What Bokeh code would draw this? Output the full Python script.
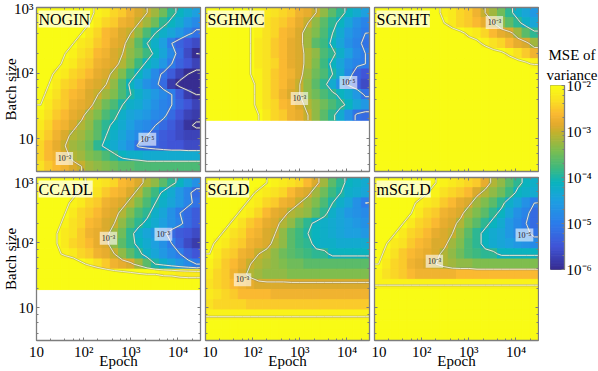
import numpy as np
from bokeh.embed import file_html
from bokeh.resources import INLINE
from bokeh.plotting import figure
from bokeh.plotting.contour import contour_data
from bokeh.layouts import row, column
from bokeh.models import (ColumnDataSource, Label, LinearColorMapper, LogAxis, LogTicker,
                          Range1d, Title)

# -log10(MSE of variance) x 10, rows from largest batch size down, columns from epoch 10 up
NOGIN = [
 [10,11,12,13,15,17,19,21,22,24,25,27,29,30,32,35,39,41,43,45],
 [10,11,13,14,16,18,20,22,24,25,27,28,30,32,35,39,41,43,46,48],
 [11,13,14,16,18,20,22,24,26,27,29,30,33,37,40,42,44,46,49,51],
 [12,14,16,18,20,22,23,25,26,28,29,32,36,40,42,45,50,53,55,56],
 [14,16,18,20,21,23,24,26,27,29,30,33,35,38,41,44,48,52,56,60],
 [16,18,19,21,22,24,25,27,28,29,31,34,38,41,43,46,50,53,55,57],
 [17,19,21,22,24,25,26,28,29,31,34,38,41,44,48,51,54,57,60,62],
 [18,20,22,24,25,26,28,29,30,33,37,41,44,47,49,52,58,62,63,63],
 [19,21,23,25,26,27,29,30,32,34,37,40,42,44,46,48,50,54,58,60],
 [20,22,24,25,27,28,29,32,35,37,40,42,43,45,47,49,50,53,55,57],
 [21,23,25,26,28,29,32,34,37,39,42,44,45,46,48,49,52,55,57,58],
 [22,24,26,27,29,31,33,36,39,41,43,45,47,48,50,52,54,56,59,61],
 [23,25,27,29,31,32,34,36,40,42,44,46,48,50,52,54,55,56,57,57],
 [24,26,28,30,32,33,35,39,41,43,45,47,51,52,53,54,55,55,56,56],
 [24,26,27,29,31,32,34,35,37,39,41,42,42,43,43,43,43,43,43,43],
 [23,25,26,27,29,30,32,33,34,35,36,36,37,37,37,37,37,37,37,37],
]
SGHMC = [
 [12,13,14,16,18,20,21,22,23,24,25,27,28,30,33,36,39,41,43,45],
 [12,13,14,16,18,20,21,23,24,25,26,28,30,33,36,39,41,44,47,49],
 [12,13,14,16,18,20,21,23,24,26,27,29,32,34,37,40,43,46,48,50],
 [12,13,14,16,18,20,22,23,25,26,28,29,32,36,38,41,44,47,49,51],
 [12,13,14,16,18,20,22,23,25,26,28,29,31,33,37,39,42,45,48,50],
 [12,13,14,16,18,20,22,23,24,26,28,29,31,34,38,41,44,47,49,50],
 [12,13,14,16,18,20,21,23,25,26,27,29,32,35,37,40,43,48,53,55],
 [12,13,14,16,18,19,21,23,25,26,28,30,33,36,39,43,47,51,54,56],
 [12,13,14,16,18,19,21,23,25,27,29,30,33,35,37,39,41,43,46,51],
 [12,13,14,16,17,19,21,23,24,26,27,29,31,33,35,37,39,41,44,46],
 [12,13,14,16,17,19,20,22,24,25,27,28,30,33,36,39,43,47,51,52],
]
SGNHT = [
 [9,10,11,12,13,14,16,19,21,22,24,25,27,30,32,35,39,42,44,46],
 [8,9,10,11,12,13,14,16,20,22,24,25,26,28,30,33,36,39,42,44],
 [7,8,9,10,11,12,13,14,16,18,19,21,22,24,26,28,29,32,36,39],
 [6,7,8,9,10,11,12,13,14,15,16,18,19,21,23,24,26,28,29,32],
 [6,7,7,8,9,10,11,12,13,13,14,15,16,17,18,19,21,23,25,27],
 [5,6,6,7,7,8,8,9,10,11,12,13,14,15,15,16,17,18,19,21],
 [5,5,5,5,5,5,5,5,5,5,5,5,5,5,5,5,5,5,5,5],
 [5,5,5,5,5,5,5,5,5,5,5,5,5,5,5,5,5,5,5,5],
 [5,5,5,5,5,5,5,5,5,5,5,5,5,5,5,5,5,5,5,5],
 [5,5,5,5,5,5,5,5,5,5,5,5,5,5,5,5,5,5,5,5],
 [5,5,5,5,5,5,5,5,5,5,5,5,5,5,5,5,5,5,5,5],
 [5,5,5,5,5,5,5,5,5,5,5,5,5,5,5,5,5,5,5,5],
 [5,5,5,5,5,5,5,5,5,5,5,5,5,5,5,5,5,5,5,5],
 [5,5,5,5,5,5,5,5,5,5,5,5,5,5,5,5,5,5,5,5],
 [5,5,5,5,5,5,5,5,5,5,5,5,5,5,5,5,5,5,5,5],
 [5,5,5,5,5,5,5,5,5,5,5,5,5,5,5,5,5,5,5,5],
]
CCADL = [
 [11,12,13,15,17,19,21,22,23,24,26,27,29,31,33,36,39,41,44,47],
 [11,13,14,16,19,21,22,23,25,26,27,29,31,35,38,41,43,46,49,52],
 [12,14,16,19,21,22,24,25,27,28,29,31,34,37,40,42,44,46,49,51],
 [13,15,18,20,22,24,25,26,28,29,31,34,37,39,42,44,47,50,52,54],
 [14,16,19,21,23,24,26,27,29,30,33,36,39,41,43,45,47,49,52,54],
 [15,18,20,22,23,25,27,28,29,32,35,39,42,44,46,49,52,54,55,56],
 [15,18,20,22,24,25,26,28,29,33,36,39,41,43,45,47,50,53,56,58],
 [14,16,19,21,22,24,25,27,28,30,33,36,39,42,44,46,48,50,53,55],
 [10,12,14,15,17,19,21,23,25,27,28,29,32,36,40,42,44,46,48,50],
 [7,8,9,10,11,12,13,14,15,16,17,18,19,20,20,21,21,22,22,22],
 [5,5,6,6,7,7,8,8,9,9,10,10,11,12,13,14,15,15,16,16],
]
SGLD = [
 [10,11,12,13,15,17,18,20,21,22,23,24,26,29,32,36,39,41,42,43],
 [11,12,14,15,17,19,21,22,23,24,26,28,29,32,35,38,40,42,43,44],
 [12,14,16,17,19,21,22,24,25,27,28,30,32,34,37,40,42,44,47,50],
 [14,15,17,19,21,22,24,26,28,29,31,32,33,36,39,42,44,46,47,48],
 [15,17,19,21,23,25,26,28,29,31,33,36,39,41,42,43,44,45,46,47],
 [18,19,21,23,24,26,27,29,30,33,36,38,40,41,42,43,44,45,45,46],
 [19,21,22,24,25,27,28,29,31,33,36,38,39,41,42,42,43,43,43,43],
 [20,22,24,25,27,28,30,31,33,35,36,37,38,39,39,41,41,41,41,41],
 [21,23,25,26,28,30,31,32,33,34,35,35,36,36,36,36,36,36,36,36],
 [22,24,25,27,29,31,32,33,33,33,34,34,34,34,34,34,34,34,34,34],
 [23,24,25,26,27,28,29,29,29,29,29,29,29,29,29,29,29,29,29,29],
 [22,23,24,25,26,26,26,26,27,27,27,27,27,27,27,27,27,27,27,27],
 [23,24,24,24,24,25,25,25,25,25,25,25,25,25,25,25,25,25,25,25],
 [21,21,21,21,21,21,21,21,21,21,21,21,21,21,21,21,21,21,21,21],
 [15,15,15,15,15,15,15,15,15,15,15,15,15,15,15,15,15,15,15,15],
 [13,13,13,13,13,13,13,13,13,13,13,13,13,13,13,13,13,13,13,13],
]
MSGLD = [
 [10,11,12,13,14,16,18,20,21,22,23,24,25,28,31,33,36,39,41,42],
 [11,12,13,15,16,18,20,21,23,24,25,26,29,31,33,35,38,41,42,43],
 [12,13,15,17,19,21,22,23,25,26,28,29,32,34,36,39,42,44,47,50],
 [13,15,17,19,20,22,24,25,27,28,29,32,34,36,39,41,44,47,49,52],
 [14,16,18,20,22,24,25,26,28,29,31,34,36,39,41,43,46,48,50,52],
 [16,18,20,22,24,25,26,28,29,30,33,36,39,41,43,44,46,48,49,51],
 [18,20,22,23,25,26,27,29,29,32,34,37,39,41,43,44,45,46,47,48],
 [19,21,23,25,26,27,28,29,31,33,35,37,38,39,39,41,41,41,41,41],
 [20,22,24,25,27,28,29,30,31,32,33,33,34,34,34,34,34,34,34,34],
 [21,23,24,25,26,27,27,27,27,27,26,26,26,26,26,26,26,26,26,26],
 [21,21,21,21,21,21,21,21,21,21,21,21,21,21,21,21,21,21,21,21],
 [7,7,7,7,7,7,7,7,7,7,7,7,7,7,7,7,7,7,7,7],
 [5,5,5,5,5,5,5,5,5,5,5,5,5,5,5,5,5,5,5,5],
 [5,5,5,5,5,5,5,5,5,5,5,5,5,5,5,5,5,5,5,5],
 [5,5,5,5,5,5,5,5,5,5,5,5,5,5,5,5,5,5,5,5],
 [5,5,5,5,5,5,5,5,5,5,5,5,5,5,5,5,5,5,5,5],
]
CONTOUR_LEVELS = [-6, -5, -4, -3, -2]
# (epoch, batch size, text) of the labels sitting on the contours
INLINE_LABELS = {
    "NOGIN": [(39, 5.0, "10⁻³"), (2240, 9.8, "10⁻⁵")],
    "SGHMC": [(980, 41, "10⁻³"), (10700, 72, "10⁻⁵")],
    "SGNHT": [(3480, 590, "10⁻³")],
    "CCADL": [(335, 117, "10⁻³"), (4900, 135, "10⁻⁵")],
    "SGLD": [(61, 27, "10⁻³")],
    "mSGLD": [(186, 52, "10⁻³"), (15100, 131, "10⁻⁵")],
}
X_TICK_LABELS = {10: "10", 100: "10²", 1000: "10³", 10000: "10⁴"}
Y_TICK_LABELS = {10: "10", 100: "10²", 1000: "10³"}
BAR_TICK_LABELS = {1e-2: "10⁻²", 1e-3: "10⁻³", 1e-4: "10⁻⁴", 1e-5: "10⁻⁵", 1e-6: "10⁻⁶"}

# colour scale
COLOR_STOPS = [-6.0, -5.5, -5.0, -4.5, -4.1, -3.8, -3.4, -3.0, -2.85, -2.6, -2.3, -2.0]
COLOR_R = [55, 65, 45, 30, 10, 60, 125, 195, 225, 250, 250, 249]
COLOR_G = [45, 85, 125, 160, 180, 185, 190, 178, 170, 185, 225, 251]
COLOR_B = [145, 215, 235, 225, 190, 130, 80, 45, 45, 50, 35, 21]
_levels = np.linspace(-6, -2, 128)
PALETTE = ["#%02x%02x%02x" % (int(r), int(g), int(b)) for r, g, b in zip(
    np.interp(_levels, COLOR_STOPS, COLOR_R),
    np.interp(_levels, COLOR_STOPS, COLOR_G),
    np.interp(_levels, COLOR_STOPS, COLOR_B))]

FONT = "Liberation Serif"
GRAY = "#7d7d7d"
mapper = LinearColorMapper(palette=PALETTE, low=-6, high=-2)
x_edges = np.linspace(1, np.log10(3e4), 21)
y_edges = np.linspace(3, 0.5, 17)


def style_axis(ax, labels=None):
    ax.ticker = LogTicker()
    ax.axis_line_color = GRAY
    ax.axis_line_width = 1.3
    ax.major_tick_line_color = GRAY
    ax.minor_tick_line_color = GRAY
    ax.major_tick_in, ax.major_tick_out = 3, 0
    ax.minor_tick_in, ax.minor_tick_out = 2, 0
    ax.major_label_standoff = 3
    if labels:
        ax.major_label_overrides = labels
        ax.major_label_text_font = FONT
        ax.major_label_text_font_size = "15px"
        ax.major_label_text_color = "black"
    else:
        ax.major_label_text_font_size = "1px"
        ax.major_label_text_color = None
        ax.major_label_standoff = 0


def style_axis_label(ax, text, standoff):
    ax.axis_label = text
    ax.axis_label_text_font = FONT
    ax.axis_label_text_font_size = "15px"
    ax.axis_label_text_font_style = "normal"
    ax.axis_label_text_color = "black"
    ax.axis_label_standoff = standoff


def panel(name, table, col, bottom):
    left_b = 36 if col == 0 else 3
    right_b = 1 if col == 2 else 2
    top_b = 3 if bottom else 7
    bottom_b = 30 if bottom else 3
    p = figure(width=left_b + 164 + right_b, height=top_b + 164 + bottom_b,
               x_axis_type="log", y_axis_type="log",
               x_range=Range1d(10, 3e4), y_range=Range1d(10 ** 0.5, 1000),
               min_border_left=left_b, min_border_right=right_b,
               min_border_top=top_b, min_border_bottom=bottom_b,
               output_backend="svg", toolbar_location=None)
    p.grid.visible = False
    p.outline_line_color = GRAY
    z = -np.array(table, dtype=float) / 10
    nrow, ncol = z.shape
    rr, cc = np.mgrid[0:nrow, 0:ncol]
    src = ColumnDataSource(dict(
        left=10 ** x_edges[cc.ravel()], right=10 ** x_edges[cc.ravel() + 1],
        top=10 ** y_edges[rr.ravel()], bottom=10 ** y_edges[rr.ravel() + 1],
        z=z.ravel()))
    cmap = {"field": "z", "transform": mapper}
    p.quad(left="left", right="right", top="top", bottom="bottom", source=src,
           fill_color=cmap, line_color=cmap, line_width=1)

    # contours, traced in log space over the cell centres, carried out to the cell edges
    xc = 0.5 * (x_edges[:-1] + x_edges[1:])
    yc = 0.5 * (y_edges[:nrow] + y_edges[1:nrow + 1])
    xg = np.r_[x_edges[0], xc, x_edges[-1]]
    yg = np.r_[y_edges[0], yc, y_edges[nrow]]
    zg = np.pad(z, 1, mode="edge")
    cd = contour_data(xg, yg[::-1], zg[::-1], CONTOUR_LEVELS, want_fill=False, want_line=True)
    xs = [10 ** np.asarray(a) for a in cd.line_data.xs if a is not None and len(a)]
    ys = [10 ** np.asarray(a) for a in cd.line_data.ys if a is not None and len(a)]
    p.multi_line(xs, ys, line_color="#777777", line_alpha=0.35, line_width=2.4)
    p.multi_line(xs, ys, line_color="#eeecd8", line_alpha=0.95, line_width=1.0)

    for ex, by, txt in INLINE_LABELS[name]:
        p.add_layout(Label(x=ex, y=by, text=txt, text_font=FONT, text_font_size="8px",
                           text_align="center", text_baseline="middle", text_color="#222222",
                           background_fill_color="white", background_fill_alpha=0.6,
                           padding=2))
    p.add_layout(Label(x=10, y=1000, x_offset=2, y_offset=-3, text=name, text_font=FONT,
                       text_font_size="16px", text_align="left", text_baseline="top",
                       text_color="black", background_fill_color="white",
                       background_fill_alpha=0.7))

    bottom_axis = p.xaxis[0]
    left_axis = p.yaxis[0]
    style_axis(bottom_axis, X_TICK_LABELS if bottom else None)
    style_axis(left_axis, Y_TICK_LABELS if col == 0 else None)
    if col == 0:
        style_axis_label(left_axis, "Batch size", -8)
    if bottom:
        style_axis_label(bottom_axis, "Epoch", -10)
    top_axis = LogAxis()
    right_axis = LogAxis()
    style_axis(top_axis)
    style_axis(right_axis)
    p.add_layout(top_axis, "above")
    p.add_layout(right_axis, "right")
    return p


figs = [panel(n, t, c, b) for n, t, c, b in [
    ("NOGIN", NOGIN, 0, False), ("SGHMC", SGHMC, 1, False), ("SGNHT", SGNHT, 2, False),
    ("CCADL", CCADL, 0, True), ("SGLD", SGLD, 1, True), ("mSGLD", MSGLD, 2, True)]]

bar = figure(width=59, height=371, y_axis_type="log", x_range=Range1d(0, 1),
             y_range=Range1d(1e-6, 1e-2), min_border_left=11, min_border_right=34,
             min_border_top=85, min_border_bottom=102, y_axis_location="right",
             output_backend="svg", toolbar_location=None)
bar.grid.visible = False
bar.xaxis.visible = False
bar.outline_line_color = GRAY
steps = np.linspace(-6, -2, len(PALETTE) + 1)
bar.quad(left=0, right=1, bottom=10 ** steps[:-1], top=10 ** steps[1:],
         fill_color=PALETTE, line_color=PALETTE, line_width=1)
style_axis(bar.yaxis[0], BAR_TICK_LABELS)
bar.yaxis[0].major_label_standoff = 2
for text, shift, gap in [("variance", -4, 5), ("MSE of", -2, 0)]:
    bar.add_layout(Title(text=text, text_font=FONT, text_font_size="15px",
                         text_font_style="normal", text_color="black", align="left",
                         offset=shift, standoff=gap), "above")

layout = row(column(row(figs[:3]), row(figs[3:])), bar)
open("out.html", "w").write(file_html(layout, INLINE))
